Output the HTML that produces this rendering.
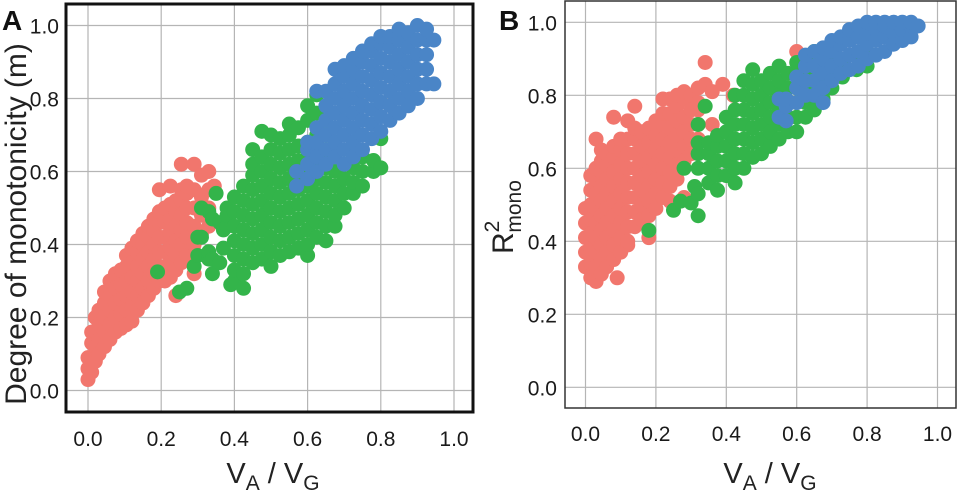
<!DOCTYPE html>
<html><head><meta charset="utf-8"><style>
html,body{margin:0;padding:0;background:#fff;}
svg{display:block;font-family:"Liberation Sans",Arial,sans-serif;}
</style></head><body>
<svg id="fig" width="959" height="490" viewBox="0 0 959 490"></svg>
<script>
// Tick labels
const xTicks = [0, 0.2, 0.4, 0.6, 0.8, 1.0];
const yTicks = [0, 0.2, 0.4, 0.6, 0.8, 1.0];
const xTickLabels = ["0.0","0.2","0.4","0.6","0.8","1.0"];
const yTickLabels = ["0.0","0.2","0.4","0.6","0.8","1.0"];
// Panel A data (columns: [x, [y values]])
const aRed = [[0.00,[0.03,0.06,0.09]],[0.01,[0.05,0.09,0.13,0.16]],[0.02,[0.08,0.12,0.16,0.20]],[0.03,[0.10,0.14,0.18,0.22]],[0.045,[0.12,0.16,0.20,0.24,0.27]],[0.06,[0.14,0.18,0.22,0.26,0.30]],[0.075,[0.16,0.20,0.24,0.28,0.32]],[0.09,[0.17,0.21,0.25,0.29,0.33]],[0.105,[0.18,0.22,0.26,0.30,0.34,0.37]],[0.12,[0.19,0.23,0.27,0.31,0.35,0.39]],[0.135,[0.22,0.26,0.30,0.34,0.38,0.41]],[0.15,[0.24,0.28,0.32,0.36,0.40,0.43]],[0.165,[0.26,0.30,0.34,0.38,0.42,0.45]],[0.18,[0.28,0.32,0.36,0.40,0.44,0.47]],[0.195,[0.30,0.34,0.38,0.42,0.46,0.49,0.55]],[0.21,[0.30,0.34,0.38,0.42,0.46,0.50]],[0.225,[0.31,0.35,0.39,0.43,0.47,0.51,0.56]],[0.24,[0.26,0.33,0.37,0.41,0.45,0.49,0.52]],[0.255,[0.35,0.40,0.44,0.48,0.52,0.55,0.62]],[0.27,[0.37,0.42,0.46,0.50,0.54,0.56]],[0.29,[0.32,0.40,0.45,0.50,0.55,0.62]],[0.31,[0.43,0.48,0.53,0.59]],[0.33,[0.45,0.50,0.55,0.60]],[0.345,[0.55,0.56]]];
const aGreen = [[0.19,[0.325]],[0.25,[0.27]],[0.27,[0.28]],[0.29,[0.34]],[0.30,[0.37,0.42]],[0.31,[0.42,0.50]],[0.33,[0.36,0.38,0.49]],[0.34,[0.32,0.36,0.47]],[0.35,[0.54]],[0.36,[0.35,0.46]],[0.37,[0.39,0.44]],[0.38,[0.45,0.48,0.50]],[0.39,[0.29]],[0.40,[0.30,0.33,0.37,0.41,0.45,0.49,0.53]],[0.425,[0.28,0.32,0.36,0.40,0.44,0.48,0.52,0.56]],[0.45,[0.35,0.39,0.43,0.47,0.51,0.55,0.59,0.62,0.66]],[0.475,[0.36,0.40,0.44,0.48,0.52,0.56,0.60,0.64,0.71]],[0.50,[0.34,0.38,0.42,0.46,0.50,0.54,0.58,0.62,0.66,0.70]],[0.525,[0.37,0.41,0.45,0.49,0.53,0.57,0.61,0.65,0.69]],[0.55,[0.38,0.42,0.46,0.50,0.54,0.58,0.62,0.66,0.70,0.73]],[0.575,[0.39,0.43,0.47,0.51,0.55,0.59,0.63,0.67,0.72]],[0.60,[0.37,0.40,0.44,0.48,0.52,0.56,0.60,0.64,0.68,0.74,0.78]],[0.625,[0.42,0.46,0.50,0.54,0.58,0.62,0.66,0.70,0.76,0.81]],[0.65,[0.41,0.45,0.49,0.53,0.57,0.61,0.65,0.70]],[0.675,[0.45,0.48,0.52,0.56,0.60,0.64]],[0.70,[0.50,0.54,0.58,0.62]],[0.725,[0.54,0.57,0.61]],[0.75,[0.56,0.60,0.64]],[0.78,[0.60,0.63]],[0.80,[0.61,0.69]]];
const aBlue = [[0.57,[0.56,0.60]],[0.60,[0.58,0.62,0.66,0.68]],[0.625,[0.60,0.64,0.68,0.72,0.82]],[0.65,[0.62,0.66,0.70,0.74,0.78,0.82]],[0.675,[0.64,0.68,0.72,0.76,0.80,0.84,0.88]],[0.70,[0.62,0.66,0.70,0.74,0.78,0.82,0.86,0.89]],[0.725,[0.64,0.68,0.72,0.76,0.80,0.84,0.88,0.91]],[0.75,[0.66,0.70,0.74,0.78,0.82,0.86,0.90,0.93]],[0.775,[0.69,0.73,0.77,0.81,0.85,0.89,0.93,0.95]],[0.80,[0.71,0.75,0.79,0.83,0.87,0.91,0.95,0.97]],[0.825,[0.74,0.78,0.82,0.86,0.90,0.94,0.97]],[0.85,[0.76,0.80,0.84,0.88,0.92,0.96,0.99]],[0.875,[0.78,0.82,0.86,0.90,0.94,0.98]],[0.90,[0.80,0.84,0.88,0.92,0.96,1.00]],[0.925,[0.84,0.88,0.92,0.96,0.99]],[0.945,[0.84,0.96]]];
// Panel B data
const bRed = [[0.00,[0.33,0.37,0.41,0.45,0.49]],[0.015,[0.30,0.34,0.38,0.42,0.46,0.50,0.54,0.58]],[0.03,[0.29,0.33,0.37,0.41,0.45,0.49,0.53,0.57,0.60,0.68]],[0.045,[0.31,0.35,0.39,0.43,0.47,0.51,0.55,0.59,0.62,0.65]],[0.06,[0.33,0.37,0.41,0.45,0.49,0.53,0.57,0.61,0.64]],[0.08,[0.35,0.39,0.43,0.47,0.51,0.55,0.59,0.63,0.66,0.74]],[0.09,[0.30]],[0.10,[0.37,0.41,0.45,0.49,0.53,0.57,0.61,0.65,0.68]],[0.12,[0.39,0.40,0.44,0.48,0.52,0.56,0.60,0.64,0.68,0.73]],[0.14,[0.44,0.48,0.52,0.56,0.60,0.64,0.68,0.71,0.77]],[0.16,[0.46,0.50,0.54,0.58,0.62,0.66,0.70]],[0.18,[0.41,0.47,0.51,0.55,0.59,0.63,0.67,0.71]],[0.20,[0.49,0.53,0.57,0.61,0.65,0.69,0.73]],[0.22,[0.52,0.56,0.60,0.64,0.68,0.72,0.75,0.79]],[0.24,[0.51,0.55,0.59,0.63,0.67,0.71,0.75,0.79]],[0.26,[0.57,0.61,0.65,0.69,0.73,0.77,0.80]],[0.28,[0.52,0.62,0.66,0.70,0.74,0.79,0.81]],[0.30,[0.64,0.68,0.72,0.76,0.80]],[0.32,[0.68,0.72,0.76,0.78,0.82]],[0.34,[0.83,0.89]],[0.36,[0.72,0.81]],[0.39,[0.83]],[0.42,[0.80]],[0.60,[0.92]]];
const bGreen = [[0.18,[0.43]],[0.25,[0.485]],[0.27,[0.51]],[0.28,[0.60]],[0.30,[0.505]],[0.31,[0.55]],[0.32,[0.47,0.53,0.60,0.64,0.67,0.72]],[0.34,[0.77]],[0.35,[0.56,0.60,0.64,0.67]],[0.375,[0.54,0.58,0.62,0.66,0.69]],[0.40,[0.58,0.62,0.66,0.70,0.74]],[0.425,[0.56,0.60,0.64,0.68,0.72,0.76,0.80]],[0.45,[0.60,0.64,0.68,0.72,0.76,0.80,0.84]],[0.475,[0.63,0.67,0.71,0.75,0.79,0.83,0.87]],[0.50,[0.64,0.68,0.72,0.76,0.80,0.84]],[0.525,[0.66,0.70,0.74,0.78,0.82,0.86]],[0.55,[0.68,0.72,0.76,0.80,0.84,0.88]],[0.575,[0.70,0.74,0.78,0.82,0.86]],[0.60,[0.70,0.74,0.78,0.82,0.86,0.89]],[0.625,[0.74,0.78,0.82,0.86,0.90]],[0.65,[0.76,0.80,0.84,0.88,0.92]],[0.675,[0.79,0.83,0.87,0.91]],[0.70,[0.82,0.86,0.90,0.94]],[0.73,[0.85,0.89]],[0.77,[0.87,0.91]],[0.80,[0.88,0.92]]];
const bBlue = [[0.55,[0.74,0.79]],[0.57,[0.73,0.77,0.79]],[0.60,[0.78,0.82,0.85]],[0.625,[0.80,0.84,0.88,0.91]],[0.65,[0.80,0.84,0.88,0.92]],[0.675,[0.78,0.82,0.86,0.90,0.93]],[0.70,[0.84,0.88,0.92,0.95]],[0.725,[0.86,0.90,0.94,0.96]],[0.75,[0.87,0.91,0.95,0.98]],[0.775,[0.88,0.92,0.96,0.99]],[0.80,[0.90,0.94,0.97,1.00]],[0.825,[0.91,0.95,0.98,1.00]],[0.85,[0.92,0.96,0.99,1.00]],[0.875,[0.94,0.97,1.00]],[0.90,[0.95,0.98,1.00]],[0.925,[0.96,0.99,1.00]],[0.945,[0.99]]];

const NS = "http://www.w3.org/2000/svg";
const svg = document.getElementById("fig");
function mk(tag, attrs, parent, text) {
  const e = document.createElementNS(NS, tag);
  for (const k in attrs) e.setAttribute(k, attrs[k]);
  if (text !== undefined) e.textContent = text;
  (parent || svg).appendChild(e);
  return e;
}
const COLORS = {red:"#F1766D", green:"#33B44A", blue:"#4A85C7"};

function panel(cfg) {
  const g = mk("g", {});
  
  
  const sx = v => cfg.x0 + v * cfg.xs;
  const sy = v => cfg.y0 - v * cfg.ys;
  xTicks.forEach((t, i) => {
    const l = mk("line", {x1:sx(t), x2:sx(t), y1:cfg.top, y2:cfg.bottom, stroke:"#b5b5b5", "stroke-width":1.2}, g);
    
    
    const tx = mk("text", {x:sx(t), y:cfg.xLabelY, "font-size":21, "text-anchor":"middle", fill:"#1a1a1a"}, g, xTickLabels[i]);
    
    
  });
  yTicks.forEach((t, i) => {
    const l = mk("line", {x1:cfg.left, x2:cfg.right, y1:sy(t), y2:sy(t), stroke:"#b5b5b5", "stroke-width":1.2}, g);
    
    
    const tx = mk("text", {x:cfg.yLabelX, y:sy(t) + 8, "font-size":21, "text-anchor":"end", fill:"#1a1a1a"}, g, yTickLabels[i]);
    
    
  });
  cfg.series.forEach(s => {
    const sg = mk("g", {fill:COLORS[s.color]}, g);
    
    
    s.data.forEach(col => {
      col[1].forEach(y => {
        const c = mk("circle", {cx:sx(col[0]), cy:sy(y), r:7.5}, sg);
        
        
      });
    });
  });
  const f = mk("rect", {x:cfg.left, y:cfg.top, width:cfg.right-cfg.left, height:cfg.bottom-cfg.top, fill:"none", stroke:cfg.frameColor, "stroke-width":cfg.frameW}, g);
  
  
  const pl = mk("text", {x:cfg.letterX, y:30, "font-size":28, "font-weight":"bold", fill:"#111"}, g, cfg.letter);
  
  
  const xt = mk("text", {x:cfg.xTitleX, y:483, "font-size":29, "text-anchor":"middle", fill:"#222"}, g);
  
  
  mk("tspan", {}, xt, "V");
  mk("tspan", {"font-size":21, dy:7}, xt, "A");
  mk("tspan", {dy:-7}, xt, " / V");
  mk("tspan", {"font-size":21, dy:7}, xt, "G");
  return {g, sx, sy};
}

const A = panel({name:"panel-a", x0:88, xs:366, y0:390.5, ys:365, left:66, right:473, top:4, bottom:412,
  xLabelY:446, yLabelX:59, frameColor:"#111", frameW:3, letter:"A", letterX:2, xTitleX:273,
  series:[{color:"red", data:aRed},{color:"green", data:aGreen},{color:"blue", data:aBlue}]});
const yt = mk("text", {x:0, y:0, "font-size":30, "text-anchor":"middle", fill:"#222", transform:"translate(26,224) rotate(-90)"}, A.g, "Degree of monotonicity (m)");



const B = panel({name:"panel-b", x0:585.5, xs:352, y0:387.3, ys:365, left:565, right:956, top:1, bottom:408,
  xLabelY:441, yLabelX:557, frameColor:"#333", frameW:1.5, letter:"B", letterX:499, xTitleX:770,
  series:[{color:"red", data:bRed},{color:"green", data:bGreen},{color:"blue", data:bBlue}]});
const yb = mk("text", {x:0, y:0, "font-size":30, "text-anchor":"start", fill:"#222", transform:"translate(513,254) rotate(-90)"}, B.g);


mk("tspan", {}, yb, "R");
mk("tspan", {"font-size":21, dy:-14, dx:0}, yb, "2");
mk("tspan", {"font-size":21, dy:22, dx:-12}, yb, "mono");
</script>
</body></html>
